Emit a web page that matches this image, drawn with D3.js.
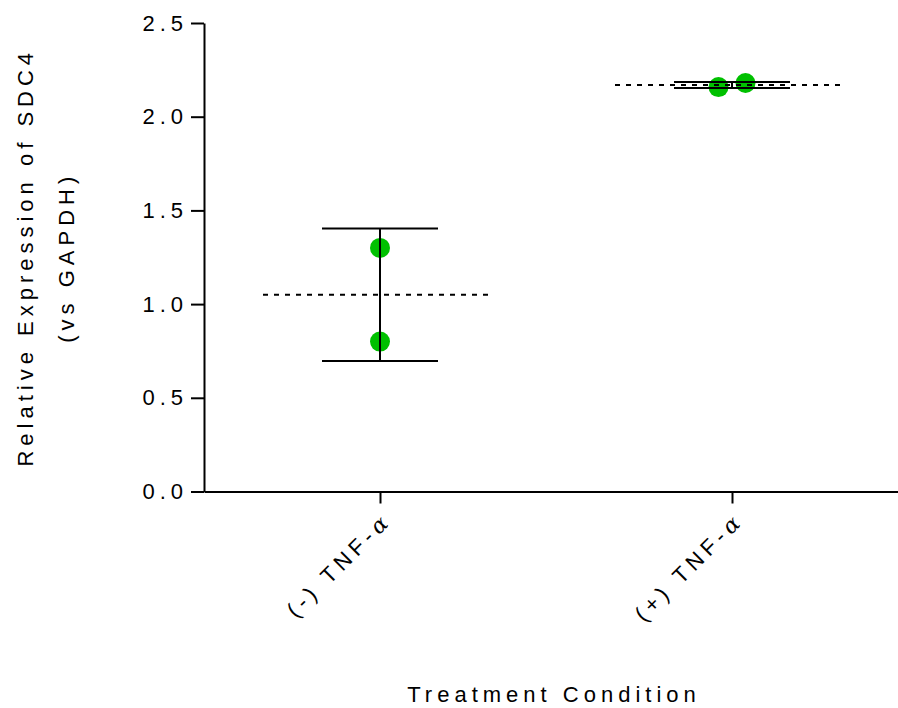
<!DOCTYPE html>
<html>
<head>
<meta charset="utf-8">
<script src="https://cdn.jsdelivr.net/npm/d3@7"></script>
<style>
  html, body { margin: 0; padding: 0; background: #ffffff; }
  svg { display: block; }
  text { font-family: "Liberation Sans", Arial, sans-serif; fill: #000; }
</style>
</head>
<body>
<div id="chart"></div>
<script>
// ---- data ----
const categories = ["(-) TNF-α", "(+) TNF-α"];
const negValues = [1.30, 0.80];
const posValues = [2.158, 2.180];
const seriesValues = [negValues, posValues];
const yTickValues = [0.0, 0.5, 1.0, 1.5, 2.0, 2.5];
const yTitleLines = ["Relative Expression of SDC4", "(vs GAPDH)"];
const xTitle = "Treatment Condition";

// ---- layout ----
const W = 898, H = 708;
const axisX = 204, axisY = 491.5, topY = 23;
const fontSize = 22, letterSpacing = 5;
const pointR = 10;
const green = "#00c000";

const svg = d3.select("#chart").append("svg")
  .attr("width", W).attr("height", H);

const x = d3.scalePoint().domain(categories).range([axisX, axisX + 704]).padding(0.5);
const y = d3.scaleLinear().domain([0, 2.5]).range([axisY, topY]);

// y axis
const yAxis = d3.axisLeft(y).tickValues(yTickValues).tickFormat(d3.format(".1f"))
  .tickSizeInner(13).tickSizeOuter(0).tickPadding(3);
const gy = svg.append("g").attr("transform", `translate(${axisX},0)`).call(yAxis);
gy.select(".domain").attr("stroke", "#000").attr("stroke-width", 2);
gy.selectAll(".tick line").attr("stroke", "#000").attr("stroke-width", 2);
gy.selectAll(".tick text")
  .attr("font-family", "Liberation Sans, Arial, sans-serif")
  .attr("font-size", fontSize).attr("letter-spacing", letterSpacing)
  .attr("fill", "#000");

// x axis
const xAxis = d3.axisBottom(x).tickSizeInner(12).tickSizeOuter(0).tickFormat(() => "");
const gx = svg.append("g").attr("transform", `translate(0,${axisY})`).call(xAxis);
gx.select(".domain").attr("stroke", "#000").attr("stroke-width", 2);
gx.selectAll(".tick line").attr("stroke", "#000").attr("stroke-width", 2);

// rotated category labels
categories.forEach(c => {
  const t = svg.append("text")
    .attr("transform", `translate(${x(c) + 13},${axisY + 30}) rotate(-45)`)
    .attr("text-anchor", "end")
    .attr("font-size", fontSize)
    .attr("letter-spacing", letterSpacing);
  t.append("tspan").text(c.slice(0, -1));
  t.append("tspan").text(c.slice(-1))
    .attr("font-family", "DejaVu Serif, serif")
    .attr("font-style", "italic")
    .attr("font-size", fontSize);
});

// axis titles
const ytg = svg.append("g").attr("transform", `translate(0,${(axisY + topY) / 2}) rotate(-90)`);
ytg.append("text").attr("x", 0).attr("y", 33).attr("text-anchor", "middle")
  .attr("font-size", fontSize).attr("letter-spacing", letterSpacing).text(yTitleLines[0]);
ytg.append("text").attr("x", 0).attr("y", 74).attr("text-anchor", "middle")
  .attr("font-size", fontSize).attr("letter-spacing", letterSpacing).text(yTitleLines[1]);

svg.append("text").attr("x", 554).attr("y", 702).attr("text-anchor", "middle")
  .attr("font-size", fontSize).attr("letter-spacing", letterSpacing).text(xTitle);

// points (spread horizontally when overlapping)
const spread = 27;
seriesValues.forEach((vals, gi) => {
  const cx = x(categories[gi]);
  const sorted = vals.slice().sort((a, b) => a - b);
  let overlap = false;
  for (let i = 1; i < sorted.length; i++) {
    if (Math.abs(y(sorted[i]) - y(sorted[i - 1])) < 2 * pointR) overlap = true;
  }
  sorted.forEach((v, i) => {
    const off = overlap ? (i - (sorted.length - 1) / 2) * spread : 0;
    svg.append("circle")
      .attr("cx", cx + off).attr("cy", y(v)).attr("r", pointR)
      .attr("fill", green);
  });
});

// mean (dotted) and SD error bars
seriesValues.forEach((vals, gi) => {
  const cx = x(categories[gi]);
  const m = d3.mean(vals);
  const sd = d3.deviation(vals);
  svg.append("line")
    .attr("x1", cx - 117).attr("x2", cx + 113)
    .attr("y1", y(m)).attr("y2", y(m))
    .attr("stroke", "#000").attr("stroke-width", 2)
    .attr("stroke-dasharray", "5,6");
  svg.append("line")
    .attr("x1", cx).attr("x2", cx)
    .attr("y1", y(m + sd)).attr("y2", y(m - sd))
    .attr("stroke", "#000").attr("stroke-width", 2);
  [m + sd, m - sd].forEach(v => {
    svg.append("line")
      .attr("x1", cx - 58).attr("x2", cx + 58)
      .attr("y1", y(v)).attr("y2", y(v))
      .attr("stroke", "#000").attr("stroke-width", 2);
  });
});
</script>
</body>
</html>
